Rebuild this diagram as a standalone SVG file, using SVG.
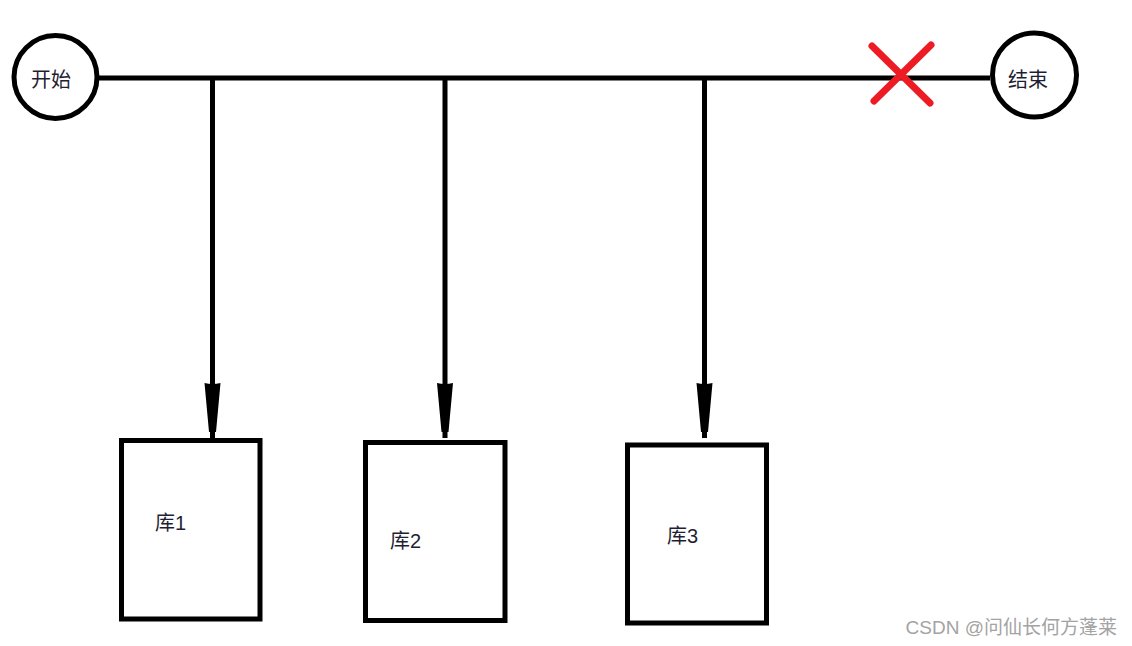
<svg xmlns="http://www.w3.org/2000/svg" width="1132" height="646" viewBox="0 0 1132 646">
  <style>
    .shape { fill: #ffffff; stroke: #000000; stroke-width: 5; }
    .line { fill: none; stroke: #000000; stroke-width: 5; }
    .label { font-family: "Liberation Sans", "Noto Sans CJK SC", sans-serif; font-size: 20px; fill: #1f1f33; }
    .cross { stroke: #ed1c24; stroke-width: 7; stroke-linecap: round; fill: none; }
    .mark { font-family: "Liberation Sans", "Noto Sans CJK SC", sans-serif; font-size: 19px; fill: #a3a3a3; }
  </style>
  <defs>
    <marker id="arrow" markerUnits="userSpaceOnUse" markerWidth="60" markerHeight="20" viewBox="-58 -10 60 20" refX="0" refY="0" orient="auto">
      <path d="M-55,-8 Q-53,0 -55,8 L-6,3.5 L-6,-3.5 Z" fill="#000000"/>
    </marker>
  </defs>
  <rect width="1132" height="646" fill="#ffffff"/>
  <g id="connectors">
    <line class="line" x1="99" y1="78" x2="990" y2="78"/>
    <line class="line" x1="212.5" y1="78" x2="212.5" y2="438" marker-end="url(#arrow)"/>
    <line class="line" x1="445" y1="78" x2="445" y2="438" marker-end="url(#arrow)"/>
    <line class="line" x1="704.5" y1="78" x2="704.5" y2="438" marker-end="url(#arrow)"/>
  </g>
  <g id="cross">
    <line class="cross" x1="872" y1="46" x2="930" y2="103"/>
    <line class="cross" x1="931" y1="45" x2="874" y2="101"/>
  </g>
  <g id="start">
    <circle class="shape" cx="55.5" cy="77" r="41.5"/>
    <text class="label" x="31" y="87">开始</text>
  </g>
  <g id="end">
    <circle class="shape" cx="1034.5" cy="75" r="42"/>
    <text class="label" x="1008" y="87">结束</text>
  </g>
  <g id="db1">
    <rect class="shape" x="121.5" y="440.5" width="138.5" height="178.5"/>
    <text class="label" x="155" y="530">库1</text>
  </g>
  <g id="db2">
    <rect class="shape" x="365.5" y="442.5" width="139.5" height="178"/>
    <text class="label" x="390" y="548">库2</text>
  </g>
  <g id="db3">
    <rect class="shape" x="627.5" y="445" width="139" height="178"/>
    <text class="label" x="667" y="543">库3</text>
  </g>
  <text class="mark" x="1117" y="634" text-anchor="end">CSDN @问仙长何方蓬莱</text>
</svg>
